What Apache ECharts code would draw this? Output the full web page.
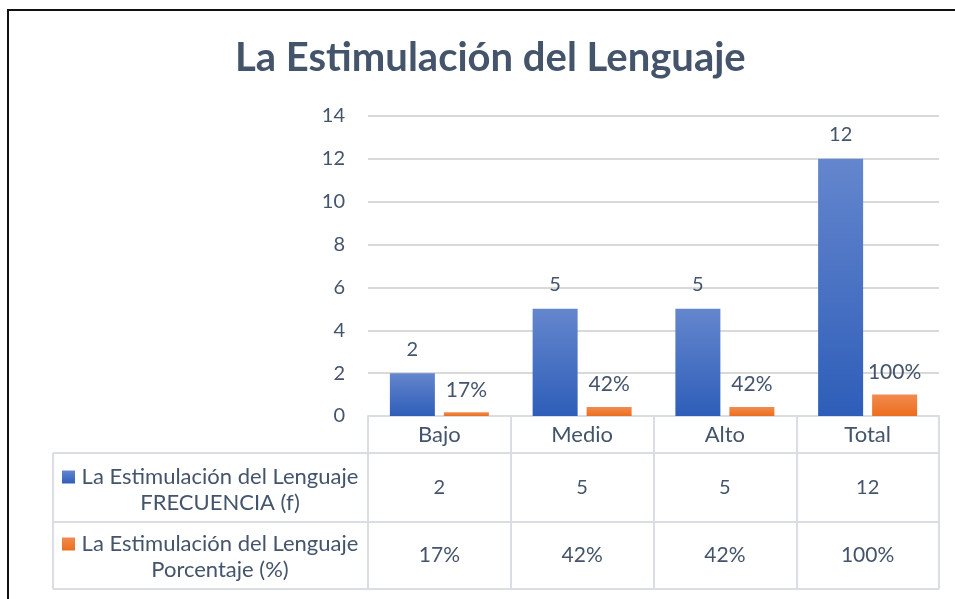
<!DOCTYPE html>
<html>
<head>
<meta charset="utf-8">
<script src="https://cdn.jsdelivr.net/npm/echarts@6/dist/echarts.min.js"></script>
<style>
  html, body { margin: 0; padding: 0; background: #fff; }
  #main { width: 955px; height: 599px; position: relative; }
  #frame { position: absolute; left: 7px; top: 9px; width: 960px; height: 600px;
           border-left: 2px solid #111; border-top: 2px solid #111; pointer-events: none; }
</style>
</head>
<body>
<div id="main"></div>
<div id="frame"></div>
<script>
// datos del grafico
var titulo = 'La Estimulación del Lenguaje';
var categorias = ['Bajo', 'Medio', 'Alto', 'Total'];
var frecuencia = [2, 5, 5, 12];
var porcentaje = [0.17, 0.42, 0.42, 1.00];
var serieNombres = ['La Estimulación del Lenguaje FRECUENCIA (f)', 'La Estimulación del Lenguaje Porcentaje (%)'];
var serieLineas = [['La Estimulación del Lenguaje', 'FRECUENCIA (f)'], ['La Estimulación del Lenguaje', 'Porcentaje (%)']];
var yTicks = [0, 2, 4, 6, 8, 10, 12, 14];

var txt = '#44546A';
var linea = '#DADEE4';
var fuente = 'Lato';

function pct(v) { return Math.round(v * 100) + '%'; }

var chartDom = document.getElementById('main');
var myChart = echarts.init(chartDom);

function leyenda(i, top) {
    return {
        data: [serieNombres[i]],
        orient: 'vertical',
        left: 62,
        top: top,
        padding: 0,
        itemWidth: 13,
        itemHeight: 13,
        icon: 'rect',
        formatter: function () {
            return '{a| }\n{a|' + serieLineas[i][0] + '}\n{a|' + serieLineas[i][1] + '}';
        },
        textStyle: {
            rich: { a: { width: 280, align: 'center', lineHeight: 26, fontSize: 22, color: txt, fontFamily: fuente } }
        },
        selectedMode: false
    };
}

var option = {
    backgroundColor: 'transparent',
    animation: false,
    title: {
        text: titulo,
        left: 235,
        top: 38,
        padding: 0,
        textStyle: { fontSize: 40, fontWeight: 'bold', color: txt, fontFamily: fuente }
    },
    legend: [leyenda(0, 440), leyenda(1, 507)],
    grid: { left: 368, right: 16, top: 116, bottom: 183 },
    xAxis: {
        type: 'category',
        data: categorias,
        axisLine: { lineStyle: { color: linea, width: 2 } },
        axisTick: { show: true, length: 173, lineStyle: { color: linea, width: 2 } },
        axisLabel: {
            margin: 0,
            interval: 0,
            formatter: function (val, idx) {
                return '{c|' + val + '}\n{v|' + frecuencia[idx] + '}\n{p|' + pct(porcentaje[idx]) + '}';
            },
            rich: {
                c: { lineHeight: 37, fontSize: 22, color: txt, fontFamily: fuente },
                v: { lineHeight: 69, fontSize: 20, color: txt, fontFamily: fuente },
                p: { lineHeight: 67, fontSize: 21, color: txt, fontFamily: fuente }
            }
        }
    },
    yAxis: {
        type: 'value',
        min: yTicks[0],
        max: yTicks[yTicks.length - 1],
        interval: 2,
        axisLine: { show: false },
        axisTick: { show: false },
        axisLabel: { margin: 23, fontSize: 20, color: txt, fontFamily: fuente },
        splitLine: { lineStyle: { color: '#D9D9D9', width: 2 } }
    },
    series: [
        {
            name: serieNombres[0],
            type: 'bar',
            data: frecuencia,
            barWidth: 45,
            barGap: '20%',
            itemStyle: {
                color: new echarts.graphic.LinearGradient(0, 0, 0, 1, [
                    { offset: 0, color: '#6486CD' },
                    { offset: 1, color: '#2E5EB9' }
                ])
            },
            label: { show: true, position: 'top', distance: 14, fontSize: 20, color: txt, fontFamily: fuente }
        },
        {
            name: serieNombres[1],
            type: 'bar',
            data: porcentaje,
            barWidth: 45,
            itemStyle: {
                color: new echarts.graphic.LinearGradient(0, 0, 0, 1, [
                    { offset: 0, color: '#F28B4E' },
                    { offset: 1, color: '#EC6E1E' }
                ])
            },
            label: {
                show: true, position: 'top', distance: 12, fontSize: 21, color: txt, fontFamily: fuente,
                formatter: function (p) { return pct(p.value); }
            }
        }
    ]
};

myChart.setOption(option);

// lineas de la tabla de datos, a partir de la escala del eje x
function tabla() {
    var x0 = myChart.convertToPixel({ xAxisIndex: 0 }, categorias[0]);
    var x1 = myChart.convertToPixel({ xAxisIndex: 0 }, categorias[1]);
    var banda = x1 - x0;
    var derecha = myChart.convertToPixel({ xAxisIndex: 0 }, categorias[categorias.length - 1]) + banda / 2;
    var izq = 53;
    var filas = [453, 522, 589];
    var elems = filas.map(function (y) {
        return { type: 'line', shape: { x1: izq, y1: y, x2: derecha, y2: y }, style: { stroke: linea, lineWidth: 2 }, silent: true };
    });
    elems.push({ type: 'line', shape: { x1: izq, y1: filas[0], x2: izq, y2: filas[2] }, style: { stroke: linea, lineWidth: 2 }, silent: true });
    myChart.setOption({ graphic: elems });
}
tabla();
</script>
</body>
</html>
